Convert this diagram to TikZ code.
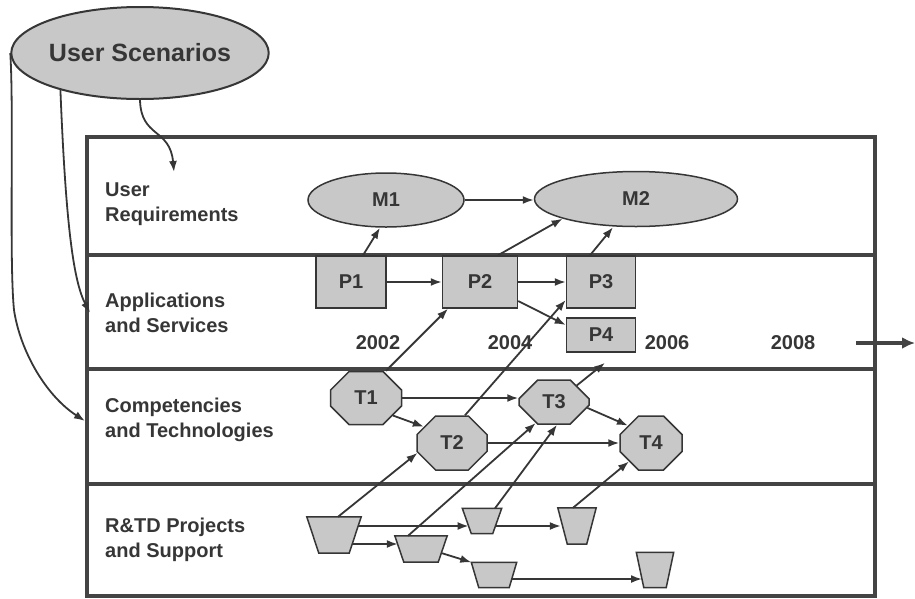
\documentclass[tikz,border=0pt]{standalone}
\usepackage{fontspec}
\setmainfont{Liberation Sans}
\usetikzlibrary{shapes.geometric,shapes.misc,arrows.meta,calc}
\definecolor{ink}{HTML}{363636}
\definecolor{shade}{HTML}{C8C8C8}
\definecolor{framec}{HTML}{444444}
\newcommand\trapz[6]{%
  \node[qbox, minimum width=#4pt, minimum height=#5pt] (#1) at (#2,#3) {};
  \draw[shp] (#1.north west) -- (#1.north east) -- ([xshift=-#6pt]#1.south east) -- ([xshift=#6pt]#1.south west) -- cycle;
}
\begin{document}
\begin{tikzpicture}[x=1pt,y=-1pt,
 every node/.style={font=\fontsize{20}{25}\selectfont\bfseries, text=ink},
 shp/.style={draw=ink, line width=1.5pt, fill=shade, inner sep=0pt},
 ell/.style={shp, ellipse},
 box/.style={shp, rectangle},
 qbox/.style={rectangle, draw=none, inner sep=0pt},
 oct/.style={shp, chamfered rectangle, chamfered rectangle xsep=14pt, chamfered rectangle ysep=15pt},
 arr/.style={draw=ink, line width=1.8pt, -{Latex[length=11pt,width=8pt]}},
 lanelabel/.style={anchor=north west, align=left, inner sep=0pt},
 yearlabel/.style={inner sep=0pt},
 framel/.style={draw=framec, line width=3.2pt}
]
\useasboundingbox (0,0) rectangle (915,598);

% frame and lanes
\draw[framel] (87,137) rectangle (875,596);
\draw[framel] (87,255) -- (875,255);
\draw[framel] (87,369) -- (875,369);
\draw[framel] (87,484) -- (875,484);

% lane labels
\node[lanelabel] (l1) at (105,183) {User\\Requirements};
\node[lanelabel] (l2) at (105,293) {Applications\\and Services};
\node[lanelabel] (l3) at (105,398) {Competencies\\and Technologies};
\node[lanelabel] (l4) at (105,518) {R\&TD Projects\\and Support};

% years
\node[yearlabel] (y2) at (378,343) {2002};
\node[yearlabel] (y4) at (510,343) {2004};
\node[yearlabel] (y6) at (667,343) {2006};
\node[yearlabel] (y8) at (793,343) {2008};

% user scenarios
\node[ell, line width=2pt, minimum width=214pt, minimum height=92pt, font=\fontsize{25}{30}\selectfont\bfseries] (US) at (140,53) {User Scenarios};

% user requirements
\node[ell, minimum width=156pt, minimum height=54pt] (M1) at (386,200) {M1};
\node[ell, minimum width=203pt, minimum height=55pt] (M2) at (636,199) {M2};

% applications
\node[box, minimum width=70pt, minimum height=52pt] (P1) at (351,282) {P1};
\node[box, minimum width=75pt, minimum height=52pt] (P2) at (480,282) {P2};
\node[box, minimum width=69pt, minimum height=52pt] (P3) at (601,282) {P3};
\node[box, minimum width=69pt, minimum height=34pt] (P4) at (601,335) {P4};

% technologies
\node[oct, minimum width=71pt, minimum height=53pt] (T1) at (366,398) {T1};
\node[oct, minimum width=70pt, minimum height=54pt] (T2) at (452,443) {T2};
\node[oct, minimum width=70pt, minimum height=44pt] (T3) at (554,402) {T3};
\node[oct, minimum width=62pt, minimum height=54pt] (T4) at (651,443) {T4};

% projects (inverted trapezia)
\trapz{Q1}{334}{535}{54}{36}{12}
\trapz{Q2}{421}{549}{52}{26}{9}
\trapz{Q3}{482}{521}{39}{25}{9}
\trapz{Q4}{577}{526}{38}{36}{9.5}
\trapz{Q5}{494}{575}{45}{25}{7.5}
\trapz{Q6}{655}{570}{37}{35}{7.5}

% free ends
\coordinate (reqIn) at (174,172);
\coordinate (appIn) at (90,313);
\coordinate (compIn) at (85,421);
\coordinate (tl0) at (856,343);
\coordinate (tl1) at (915,343);

% scenario arrows
\draw[arr] (US.south) .. controls (141,138) and (170,128) .. (reqIn);
\draw[arr] (US.205) .. controls (66,230) and (74,282) .. (appIn);
\draw[arr] (US.west) .. controls (14,110) and (9,260) .. (14,310) .. controls (20,350) and (45,395) .. (compIn);

% timeline
\draw[draw=framec, line width=3.2pt, -{Latex[length=13pt,width=12pt]}] (tl0) -- (tl1);

% requirement level
\draw[arr] (M1.east) -- (M1.east -| M2.west);
\draw[arr] ([xshift=12pt]P1.north) -- ([xshift=-6pt]M1.south);
\draw[arr] ([xshift=18pt]P2.north) -- (M2.195);
\draw[arr] ([xshift=-11pt]P3.north) -- ([xshift=-23pt]M2.south);

% applications level
\draw[arr] (P1.east) -- (P2.west);
\draw[arr] (P2.east) -- (P3.west);
\draw[arr] ([yshift=-19pt]P2.east) -- ([yshift=10pt]P4.west);

% technologies to applications
\draw[arr] ([xshift=20pt]T1.north) -- ([xshift=-32pt]P2.south);
\draw[arr] ([xshift=13pt]T2.north) -- ([yshift=-18pt]P3.west);
\draw[arr] (T3.36) -- ([xshift=4pt,yshift=-10pt]P4.south);

% technologies level
\draw[arr] (T1.east) -- (T1.east -| T3.west);
\draw[arr] (T1.-33) -- (T2.150);
\draw[arr] (T2.east) -- (T4.west);
\draw[arr] (T3.-10) -- (T4.143);

% projects to technologies
\draw[arr] ([xshift=4pt]Q1.north) -- (T2.196);
\draw[arr] ([xshift=-13pt]Q2.north) -- (T3.229);
\draw[arr] ([xshift=13pt]Q3.north) -- ([xshift=3pt]T3.south);
\draw[arr] ([xshift=-4pt]Q4.north) -- (T4.220);

% projects level
\draw[arr] ([xshift=-3pt,yshift=9pt]Q1.east) -- ([xshift=6.3pt,yshift=-5pt]Q3.west);
\draw[arr] ([xshift=-6.3pt,yshift=-5pt]Q3.east) -- ([xshift=3pt]Q4.west);
\draw[arr] ([xshift=-9pt,yshift=-9pt]Q1.east) -- ([xshift=3pt,yshift=5pt]Q2.west);
\draw[arr] ([xshift=-5.9pt,yshift=-4pt]Q2.east) -- (Q5.north west);
\draw[arr] ([xshift=-4.95pt,yshift=-4pt]Q5.east) -- ([xshift=5.7pt,yshift=-9pt]Q6.west);
\end{tikzpicture}
\end{document}
